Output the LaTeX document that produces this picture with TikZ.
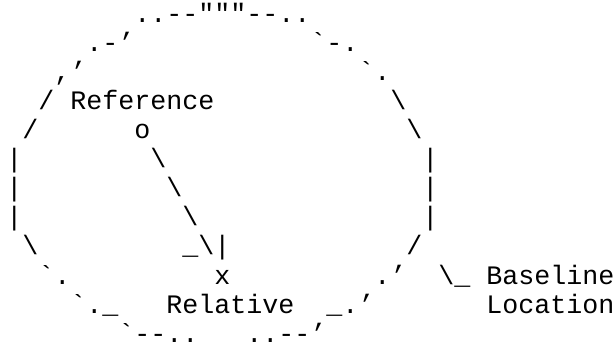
\documentclass[tikz,border=0pt]{standalone}
\usepackage{fontspec}
\setmonofont{Liberation Mono}
\tikzset{
  ascii/.style={anchor=base west, inner sep=0pt,
    font=\ttfamily\fontsize{13.33}{14.5}\selectfont}
}
\begin{document}
\begin{tikzpicture}[x=8pt,y=-14.5pt]
  \useasboundingbox (-3pt,11.5pt) rectangle (304.5pt,-162pt);
  % outline of the baseline location
  \node[ascii] (top)  at (8,0)  {..--"""--..};
  \node[ascii] (nwa)  at (5,1)  {.-’};
  \node[ascii] (nea)  at (19,1) {`-.};
  \node[ascii] (nwb)  at (3,2)  {,’};
  \node[ascii] (neb)  at (22,2) {`.};
  \node[ascii] (nwc)  at (2,3)  {/};
  \node[ascii] (nec)  at (24,3) {\textbackslash};
  \node[ascii] (nwd)  at (1,4)  {/};
  \node[ascii] (ned)  at (25,4) {\textbackslash};
  \node[ascii] (wa)   at (0,5)  {|};
  \node[ascii] (ea)   at (26,5) {|};
  \node[ascii] (wb)   at (0,6)  {|};
  \node[ascii] (eb)   at (26,6) {|};
  \node[ascii] (wc)   at (0,7)  {|};
  \node[ascii] (ec)   at (26,7) {|};
  \node[ascii] (swa)  at (1,8)  {\textbackslash};
  \node[ascii] (sea)  at (25,8) {/};
  \node[ascii] (swb)  at (2,9)  {`.};
  \node[ascii] (seb)  at (23,9) {.’};
  \node[ascii] (swc)  at (4,10) {`.\_};
  \node[ascii] (sec)  at (20,10) {\_.’};
  \node[ascii] (botl) at (7,11) {`--..};
  \node[ascii] (botr) at (15,11) {..--’};
  % reference point and the line to the relative point
  \node[ascii] (reflabel) at (4,3) {Reference};
  \node[ascii] (refpt)    at (8,4) {o};
  \node[ascii] (lna)      at (9,5) {\textbackslash};
  \node[ascii] (lnb)      at (10,6) {\textbackslash};
  \node[ascii] (lnc)      at (11,7) {\textbackslash};
  \node[ascii] (tip)      at (11,8) {\_\textbackslash|};
  \node[ascii] (relpt)    at (13,9) {x};
  \node[ascii] (rellabel) at (10,10) {Relative};
  % label of the outline
  \node[ascii] (hook)     at (27,9) {\textbackslash\_};
  \node[ascii] (baselbl)  at (30,9) {Baseline};
  \node[ascii] (loclbl)   at (30,10) {Location};
\end{tikzpicture}
\end{document}
